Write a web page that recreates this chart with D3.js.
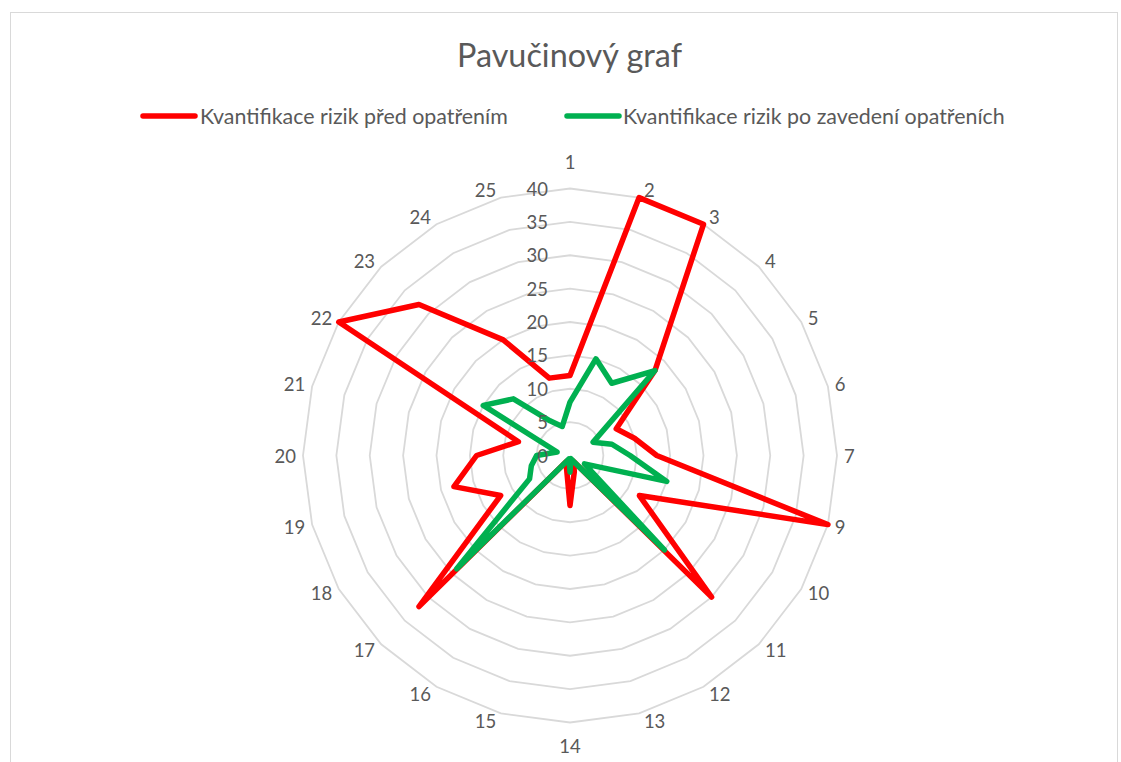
<!DOCTYPE html>
<html><head><meta charset="utf-8">
<script src="https://cdn.jsdelivr.net/npm/d3@7"></script>
<style>
body{margin:0;background:#fff}
svg text{font-family:Lato,"Open Sans",sans-serif;fill:#595959}
</style>
</head><body>
<svg id="chart" width="1121" height="762"></svg>
<script>
// ---- data ----
const categories = ["1","2","3","4","5","6","7","9","10","11","12","13","14","15","16","17","18","19","20","21","22","23","24","25"];
const beforeValues = [12,40,40,18,8,10,13,40,12,30,1,2.5,7.5,2,1,32,12,18,14,8,40,32,20,12];
const afterValues  = [8,15,12.5,18,4,6.5,9,15,2.5,20,1,0.5,2.5,0.5,1,24,7,6,5,2,15,12,6,4.5];
const radialTicks = [0,5,10,15,20,25,30,35,40];
const seriesNames = ["Kvantifikace rizik před opatřením","Kvantifikace rizik po zavedení opatřeních"];
const seriesColors = ["#ff0000","#00b050"];
const titleText = "Pavučinový graf";

// ---- layout ----
const cx = 570, cy = 455.5, R = 267;
const svg = d3.select("#chart");

svg.append("rect").attr("x",10.5).attr("y",12.5).attr("width",1107).attr("height",800)
  .attr("fill","none").attr("stroke","#d9d9d9").attr("stroke-width",1);

const n = categories.length;
const angle = d3.scaleLinear().domain([0,n]).range([0,2*Math.PI]);
const r = d3.scaleLinear().domain([0,40]).range([0,R]);

const g = svg.append("g").attr("transform",`translate(${cx},${cy})`);

// grid rings (polygons)
const ringLine = d3.lineRadial().angle((d,i)=>angle(i)).radius(d=>r(d)).curve(d3.curveLinearClosed);
g.selectAll("path.ring").data(radialTicks.filter(t=>t>0)).join("path")
  .attr("class","ring")
  .attr("d",t=>ringLine(categories.map(()=>t)))
  .attr("fill","none").attr("stroke","#d9d9d9").attr("stroke-width",1.8);

// series
const seriesLine = d3.lineRadial().angle((d,i)=>angle(i)).radius(d=>r(d)).curve(d3.curveLinearClosed);
[beforeValues, afterValues].forEach((vals,k)=>{
  g.append("path").attr("d",seriesLine(vals)).attr("fill","none")
   .attr("stroke",seriesColors[k]).attr("stroke-width",5.5)
   .attr("stroke-linejoin","round").attr("stroke-linecap","round");
});

// radial tick labels
g.selectAll("text.tick").data(radialTicks).join("text")
  .attr("class","tick")
  .attr("x",-22).attr("y",t=>-r(t))
  .attr("text-anchor","end").attr("dominant-baseline","central")
  .style("font-size","18.5px")
  .text(t=>t);

// category labels
g.selectAll("text.cat").data(categories).join("text")
  .attr("class","cat")
  .attr("text-anchor","middle").attr("dominant-baseline","central")
  .style("font-size","18.5px")
  .text(d=>d)
  .each(function(d,i){
    const a = angle(i);
    const s = Math.sin(a), c = Math.cos(a);
    const w = this.getComputedTextLength();
    let x, y;
    if (Math.abs(s) < 1e-6) {
      x = 0; y = c > 0 ? -294 : 290;
    } else {
      x = (R+3)*s + Math.sign(s)*(w/2+4);
      y = -(R+8)*c;
    }
    d3.select(this).attr("x", x).attr("y", y);
  });

// title
const title = svg.append("text").attr("x",569.5).attr("y",67).attr("text-anchor","middle")
  .style("font-size","30px").text(titleText);
{
  const L = title.node().getComputedTextLength();
  title.style("font-size", (30*225/L)+"px");
}

// legend
const leg1 = svg.append("g");
leg1.append("line").attr("x1",143).attr("x2",195).attr("y1",116).attr("y2",116)
  .attr("stroke",seriesColors[0]).attr("stroke-width",5.5).attr("stroke-linecap","round");
const t1 = leg1.append("text").attr("x",200).attr("y",116).attr("dominant-baseline","central")
  .style("font-size","20px").text(seriesNames[0]);
const L1 = t1.node().getComputedTextLength();
const fs = 20*308/L1;
t1.style("font-size",fs+"px");
const leg2 = svg.append("g");
leg2.append("line").attr("x1",567).attr("x2",619).attr("y1",116).attr("y2",116)
  .attr("stroke",seriesColors[1]).attr("stroke-width",5.5).attr("stroke-linecap","round");
leg2.append("text").attr("x",623).attr("y",116).attr("dominant-baseline","central")
  .style("font-size",fs+"px").text(seriesNames[1]);
</script>
</body></html>
